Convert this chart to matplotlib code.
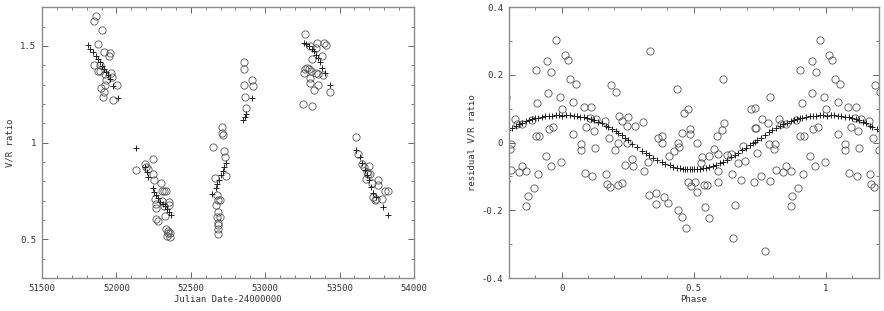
"""V/R ratio time series and phased residuals."""

import matplotlib

matplotlib.use("Agg")
import matplotlib.pyplot as plt
import numpy as np
from matplotlib.ticker import MultipleLocator

# --- left panel: observed V/R ratio (circles) and model (crosses)
obs_jd = [
    51861, 51847, 51901, 51874, 51847, 51919, 51955, 51951, 51876, 51887, 51892,
    51923, 51928, 51964, 51969, 52004, 51923, 51896, 51914, 51910, 51977,
    52134, 52194, 52201, 52210, 52246, 52246, 52253, 52300, 52306, 52322, 52336,
    52259, 52268, 52268, 52268, 52282, 52304, 52320, 52326, 52353, 52353, 52336,
    52349, 52358, 52340, 52358, 52345,
    52649, 52663, 52712, 52708, 52717, 52726, 52730, 52739, 52676, 52681, 52694,
    52672, 52685, 52676, 52694, 52685, 52681, 52685, 52681,
    52855, 52855, 52860, 52913, 52918, 52864, 52873,
    53267, 53299, 53339, 53348, 53392, 53406, 53383, 53317, 53267, 53284, 53293,
    53262, 53306, 53301, 53301, 53339, 53357, 53388, 53352, 53330, 53437, 53254,
    53317,
    53608, 53626, 53648, 53661, 53684, 53693, 53675, 53697, 53706, 53715, 53759,
    53755, 53724, 53737, 53746, 53786, 53804, 53827,
]
obs_vr = [
    1.652, 1.631, 1.583, 1.512, 1.400, 1.469, 1.462, 1.448, 1.371, 1.371, 1.400,
    1.355, 1.324, 1.362, 1.338, 1.300, 1.300, 1.281, 1.259, 1.238, 1.221,
    0.859, 0.890, 0.876, 0.862, 0.917, 0.838, 0.807, 0.790, 0.752, 0.748, 0.748,
    0.710, 0.683, 0.660, 0.605, 0.597, 0.700, 0.674, 0.622, 0.691, 0.678, 0.555,
    0.545, 0.534, 0.517, 0.514, 0.531,
    0.979, 0.816, 1.079, 1.052, 1.041, 0.959, 0.928, 0.828, 0.729, 0.703, 0.703,
    0.678, 0.641, 0.617, 0.614, 0.586, 0.572, 0.552, 0.526,
    1.419, 1.379, 1.300, 1.321, 1.290, 1.238, 1.181,
    1.562, 1.500, 1.491, 1.514, 1.514, 1.503, 1.450, 1.431, 1.381, 1.384, 1.379,
    1.359, 1.371, 1.333, 1.307, 1.362, 1.355, 1.350, 1.300, 1.272, 1.260, 1.200,
    1.190,
    1.028, 0.940, 0.888, 0.872, 0.847, 0.838, 0.810, 0.879, 0.838, 0.790, 0.807,
    0.779, 0.721, 0.703, 0.710, 0.707, 0.748, 0.748,
]
model_jd = [
    51807, 51825, 51843, 51861, 51874, 51887, 51901, 51914, 51928, 51941, 51955,
    51977, 52013,
    52134, 52194, 52206, 52210, 52246, 52255, 52268, 52282, 52295, 52313, 52326,
    52340, 52353, 52367,
    52645, 52667, 52676, 52690, 52703, 52717, 52726, 52739,
    52851, 52864, 52873, 52913,
    53258, 53276, 53294, 53312, 53326, 53339, 53352, 53366, 53384, 53402, 53437,
    53612, 53634, 53652, 53670, 53684, 53697, 53711, 53724, 53742, 53791, 53827,
]
model_vr = [
    1.502, 1.483, 1.466, 1.448, 1.431, 1.414, 1.397, 1.379, 1.366, 1.348, 1.328,
    1.293, 1.228,
    0.972, 0.876, 0.850, 0.824, 0.767, 0.747, 0.729, 0.712, 0.695, 0.683, 0.672,
    0.655, 0.640, 0.626,
    0.734, 0.767, 0.784, 0.807, 0.833, 0.855, 0.876, 0.897,
    1.117, 1.134, 1.148, 1.228,
    1.517, 1.510, 1.500, 1.486, 1.471, 1.453, 1.436, 1.419, 1.384, 1.359, 1.300,
    0.962, 0.928, 0.893, 0.859, 0.833, 0.807, 0.772, 0.741, 0.717, 0.666, 0.626,
]

# --- right panel: residuals folded on phase (0..1), model at sampled phases
res_phase = [
    0.998, 0.994, 0.001, 0.011, 0.024, 0.033, 0.044, 0.053, 0.045, 0.074, 0.074,
    0.084, 0.094, 0.112, 0.087, 0.116, 0.123, 0.127, 0.132, 0.109, 0.163, 0.167,
    0.172, 0.180, 0.186, 0.183, 0.206, 0.202, 0.215, 0.217, 0.227, 0.215, 0.230,
    0.240, 0.246, 0.251, 0.246, 0.266, 0.269, 0.279, 0.309, 0.313, 0.327, 0.330,
    0.335, 0.356, 0.359, 0.363, 0.381, 0.380, 0.387, 0.402, 0.407, 0.426, 0.436,
    0.439, 0.442, 0.446, 0.456, 0.457, 0.462, 0.471, 0.477, 0.477, 0.486, 0.487,
    0.490, 0.506, 0.513, 0.514, 0.528, 0.533, 0.540, 0.543, 0.550, 0.557, 0.559,
    0.577, 0.587, 0.592, 0.593, 0.593, 0.608, 0.609, 0.614, 0.627, 0.639, 0.643,
    0.648, 0.657, 0.668, 0.678, 0.685, 0.693, 0.717, 0.727, 0.730, 0.730, 0.735,
    0.740, 0.758, 0.755, 0.768, 0.780, 0.788, 0.785, 0.790, 0.804, 0.810, 0.809,
    0.823, 0.830, 0.838, 0.850, 0.850, 0.866, 0.867, 0.871, 0.887, 0.896, 0.903,
    0.903, 0.908, 0.912, 0.916, 0.941, 0.946, 0.947, 0.951, 0.958, 0.961, 0.969,
    0.979,
]
res_vr = [
    -0.058, 0.135, 0.100, 0.260, 0.245, 0.189, 0.120, 0.173, 0.024, -0.004, -0.022,
    0.106, 0.047, 0.106, -0.089, -0.098, 0.033, -0.015, 0.071, 0.074, 0.064, -0.093,
    -0.121, 0.015, 0.170, -0.131, 0.150, -0.021, -0.002, 0.078, 0.065, -0.125, -0.120,
    -0.067, 0.049, 0.075, 0.000, -0.049, -0.070, 0.049, 0.062, -0.085, -0.057, -0.156,
    0.270, -0.149, -0.182, 0.013, 0.000, 0.020, -0.161, -0.179, -0.041, -0.024, 0.157,
    -0.001, -0.200, -0.013, -0.220, 0.029, 0.086, -0.253, 0.098, -0.115, 0.040, 0.024,
    -0.129, -0.117, -0.002, -0.147, -0.059, -0.044, -0.124, -0.191, -0.124, -0.222, -0.041,
    -0.020, 0.018, -0.115, -0.033, -0.085, 0.037, 0.189, 0.059, -0.036, -0.034, -0.093,
    -0.283, -0.185, -0.061, -0.109, -0.010, -0.053, 0.098, -0.115, 0.101, 0.044, 0.044,
    -0.032, 0.071, -0.100, -0.320, 0.059, 0.135, -0.004, -0.112, -0.019, -0.080, -0.005,
    0.069, 0.055, -0.087, 0.055, -0.069, -0.085, -0.188, -0.157, 0.067, -0.134, 0.215,
    0.018, 0.118, -0.093, 0.020, -0.041, 0.241, 0.145, 0.040, -0.068, 0.209, 0.047,
    0.304,
]
fit_phase = [
    0.003, 0.018, 0.031, 0.047, 0.058, 0.071, 0.086, 0.097, 0.112, 0.124, 0.139,
    0.151, 0.168, 0.176, 0.192, 0.204, 0.213, 0.228, 0.241, 0.252, 0.268, 0.287,
    0.304, 0.318, 0.331, 0.347, 0.362, 0.378, 0.391, 0.409, 0.423, 0.437, 0.448,
    0.459, 0.468, 0.476, 0.484, 0.493, 0.502, 0.511, 0.522, 0.534, 0.547, 0.558,
    0.571, 0.586, 0.598, 0.612, 0.627, 0.641, 0.656, 0.668, 0.683, 0.697, 0.712,
    0.726, 0.733, 0.741, 0.756, 0.769, 0.784, 0.797, 0.812, 0.826, 0.839, 0.852,
    0.866, 0.878, 0.889, 0.901, 0.911, 0.924, 0.938, 0.951, 0.964, 0.977, 0.989,
]
fit_vr = [
    0.080, 0.081, 0.081, 0.080, 0.079, 0.077, 0.075, 0.073, 0.069, 0.066, 0.061,
    0.057, 0.050, 0.047, 0.040, 0.034, 0.029, 0.021, 0.013, 0.007, -0.003, -0.014,
    -0.024, -0.031, -0.038, -0.046, -0.052, -0.058, -0.062, -0.067, -0.071, -0.074, -0.075,
    -0.077, -0.077, -0.078, -0.078, -0.078, -0.078, -0.078, -0.077, -0.076, -0.074, -0.072,
    -0.069, -0.065, -0.061, -0.056, -0.050, -0.044, -0.037, -0.031, -0.023, -0.016, -0.008,
    -0.001, 0.003, 0.007, 0.015, 0.022, 0.030, 0.036, 0.043, 0.049, 0.054, 0.058,
    0.063, 0.066, 0.069, 0.072, 0.074, 0.076, 0.078, 0.079, 0.080, 0.081, 0.081,
]

TEXT = "#333333"
FRAME = "#8a8a8a"
FONT = {"family": "DejaVu Sans Mono", "size": 6.5, "color": TEXT}

plt.rcParams.update({
    "font.family": "DejaVu Sans Mono",
    "font.size": 6.5,
    "xtick.direction": "in",
    "ytick.direction": "in",
    "xtick.top": True,
    "ytick.right": True,
    "xtick.major.size": 4.5,
    "ytick.major.size": 4.5,
    "xtick.minor.size": 2.5,
    "ytick.minor.size": 2.5,
    "xtick.major.width": 0.7,
    "ytick.major.width": 0.7,
    "xtick.minor.width": 0.6,
    "ytick.minor.width": 0.6,
    "xtick.color": "#666666",
    "ytick.color": "#666666",
    "xtick.labelcolor": TEXT,
    "ytick.labelcolor": TEXT,
    "xtick.major.pad": 4,
    "ytick.major.pad": 4,
})


def style_frame(ax):
    for spine in ax.spines.values():
        spine.set_color(FRAME)
        spine.set_linewidth(1.0)
    ax.tick_params(which="both", top=True, right=True)


def draw_points(ax, x_obs, y_obs, x_mod, y_mod):
    ax.plot(x_obs, y_obs, linestyle="none", marker="o", markersize=5.2,
            markerfacecolor="none", markeredgecolor="#555555", markeredgewidth=0.6)
    ax.plot(x_mod, y_mod, linestyle="none", marker="+", markersize=5,
            color="#222222", markeredgewidth=0.7)


fig = plt.figure(figsize=(8.84, 3.11), dpi=100)
ax1 = fig.add_axes([0.0475, 0.106, 0.4208, 0.871])
ax2 = fig.add_axes([0.5755, 0.106, 0.4186, 0.871])

draw_points(ax1, obs_jd, obs_vr, model_jd, model_vr)
ax1.set_xlim(51500, 54000)
ax1.set_ylim(0.3, 1.7)
ax1.xaxis.set_major_locator(MultipleLocator(500))
ax1.xaxis.set_minor_locator(MultipleLocator(100))
ax1.yaxis.set_major_locator(MultipleLocator(0.5))
ax1.yaxis.set_minor_locator(MultipleLocator(0.1))
ax1.set_yticks([0.5, 1.0, 1.5], ["0.5", "1", "1.5"])
ax1.set_xlabel("Julian Date-24000000", fontdict=FONT, labelpad=2)
ax1.set_ylabel("V/R ratio", fontdict=FONT, labelpad=4)
style_frame(ax1)

# fold the phased data onto -0.2 .. 1.2
ph = np.asarray(res_phase)
fp = np.asarray(fit_phase)
shifts = [-1, 0, 1]
draw_points(
    ax2,
    np.concatenate([ph + s for s in shifts]), np.tile(res_vr, 3),
    np.concatenate([fp + s for s in shifts]), np.tile(fit_vr, 3),
)
ax2.set_xlim(-0.2, 1.2)
ax2.set_ylim(-0.4, 0.4)
ax2.xaxis.set_major_locator(MultipleLocator(0.5))
ax2.xaxis.set_minor_locator(MultipleLocator(0.1))
ax2.yaxis.set_major_locator(MultipleLocator(0.2))
ax2.yaxis.set_minor_locator(MultipleLocator(0.1))
ax2.set_xticks([0, 0.5, 1], ["0", "0.5", "1"])
ax2.set_yticks([-0.4, -0.2, 0, 0.2, 0.4], ["-0.4", "-0.2", "0", "0.2", "0.4"])
ax2.set_xlabel("Phase", fontdict=FONT, labelpad=2)
ax2.set_ylabel("residual V/R ratio", fontdict=FONT, labelpad=4)
style_frame(ax2)

fig.savefig("out.png", dpi=100)
